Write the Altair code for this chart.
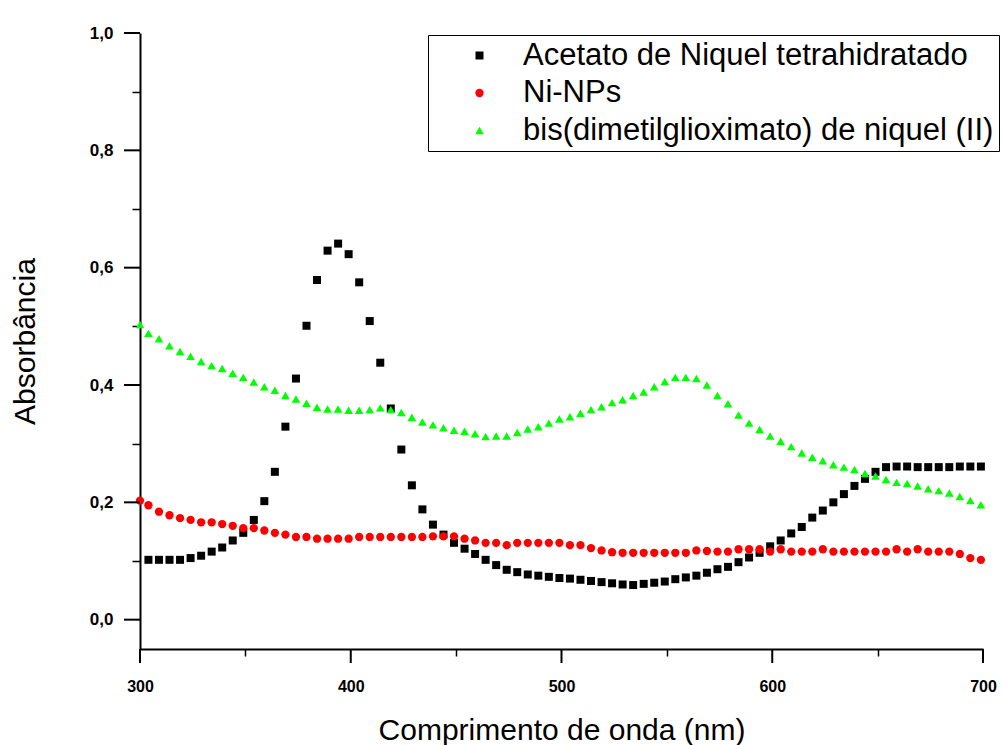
import altair as alt
import pandas as pd

series = ["Acetato de Niquel tetrahidratado", "Ni-NPs", "bis(dimetilglioximato) de niquel (II)"]
colors = ["#000000", "#ff0000", "#00ff00"]
shapes = ["square", "circle", "triangle-up"]
sizes = [64, 74, 165]

nm_black = list(range(304, 700, 5))
nm_red = [300] + list(range(304, 700, 5))
nm_green = [300] + list(range(304, 700, 5))

abs_black = [
    0.102, 0.102, 0.102, 0.102, 0.105, 0.109, 0.116, 0.123, 0.135, 0.148,
    0.170, 0.202, 0.252, 0.329, 0.411, 0.501, 0.579, 0.629, 0.641, 0.623,
    0.575, 0.509, 0.438, 0.360, 0.290, 0.229, 0.188, 0.162, 0.145, 0.131,
    0.121, 0.112, 0.102, 0.093, 0.085, 0.081, 0.077, 0.075, 0.073, 0.071,
    0.070, 0.068, 0.066, 0.064, 0.062, 0.060, 0.059, 0.061, 0.063, 0.065,
    0.069, 0.072, 0.075, 0.080, 0.086, 0.090, 0.098, 0.106, 0.114, 0.125,
    0.135, 0.147, 0.158, 0.174, 0.186, 0.200, 0.214, 0.228, 0.240, 0.252,
    0.260, 0.261, 0.261, 0.260, 0.260, 0.260, 0.260, 0.261, 0.261, 0.261,
]

abs_red = [
    0.203, 0.195, 0.184, 0.178, 0.173, 0.170, 0.166, 0.166, 0.163, 0.160,
    0.156, 0.156, 0.152, 0.148, 0.145, 0.141, 0.141, 0.138, 0.138, 0.138,
    0.138, 0.141, 0.141, 0.141, 0.141, 0.141, 0.141, 0.141, 0.142, 0.142,
    0.142, 0.138, 0.135, 0.131, 0.131, 0.127, 0.131, 0.131, 0.131, 0.131,
    0.131, 0.127, 0.127, 0.122, 0.118, 0.115, 0.114, 0.114, 0.114, 0.114,
    0.114, 0.114, 0.114, 0.118, 0.117, 0.116, 0.116, 0.120, 0.120, 0.120,
    0.116, 0.120, 0.116, 0.116, 0.116, 0.120, 0.116, 0.116, 0.116, 0.116,
    0.116, 0.116, 0.120, 0.116, 0.120, 0.116, 0.116, 0.116, 0.112, 0.105,
    0.102,
]

abs_green = [
    0.503, 0.488, 0.479, 0.467, 0.457, 0.449, 0.440, 0.433, 0.428, 0.420,
    0.413, 0.405, 0.397, 0.391, 0.382, 0.376, 0.369, 0.362, 0.359, 0.359,
    0.357, 0.357, 0.358, 0.361, 0.358, 0.353, 0.345, 0.337, 0.332, 0.327,
    0.323, 0.321, 0.317, 0.312, 0.313, 0.313, 0.319, 0.325, 0.329, 0.335,
    0.342, 0.346, 0.352, 0.358, 0.363, 0.370, 0.375, 0.382, 0.388, 0.397,
    0.406, 0.413, 0.413, 0.411, 0.400, 0.382, 0.368, 0.349, 0.335, 0.324,
    0.313, 0.304, 0.295, 0.284, 0.277, 0.271, 0.264, 0.260, 0.256, 0.249,
    0.245, 0.239, 0.234, 0.232, 0.228, 0.223, 0.220, 0.216, 0.210, 0.203,
    0.196,
]

x_major = [300, 400, 500, 600, 700]
x_minor = [350, 450, 550, 650]
y_major = [0.0, 0.2, 0.4, 0.6, 0.8, 1.0]
y_minor = [0.1, 0.3, 0.5, 0.7, 0.9]

rows = []
for name, xs, ys in [(series[0], nm_black, abs_black), (series[1], nm_red, abs_red), (series[2], nm_green, abs_green)]:
    for a, b in zip(xs, ys):
        rows.append({"nm": a, "abs": b, "serie": name})
df = pd.DataFrame(rows)
df["ordem"] = df["serie"].map({s: i for i, s in enumerate(series)})

FONT = "Liberation Sans"
W, H = 843, 616
xscale = alt.Scale(domain=[300, 700], nice=False, zero=False)
yscale = alt.Scale(domain=[-0.05, 1.0], nice=False, zero=False)

leg = alt.Legend(
    title=None,
    orient="none",
    legendX=288,
    legendY=2,
    strokeColor="black",
    fillColor="white",
    padding=5,
    labelFont=FONT,
    labelFontSize=31,
    labelColor="black",
    labelLimit=700,
    labelOffset=28,
    symbolOffset=31,
    symbolSize=60,
    symbolStrokeWidth=0,
    rowPadding=5.5,
)

base = alt.Chart(df)

points = base.mark_point(filled=True, opacity=1, strokeWidth=0).encode(
    x=alt.X(
        "nm:Q",
        scale=xscale,
        axis=alt.Axis(
            orient="bottom",
            values=x_major,
            title="Comprimento de onda (nm)",
            titleFont=FONT,
            titleFontSize=30,
            titleFontWeight="normal",
            titleColor="black",
            titleY=90,
            titleBaseline="alphabetic",
            labelFont=FONT,
            labelFontSize=16,
            labelFontWeight="bold",
            labelColor="black",
            labelFlush=False,
            labelOverlap=False,
            labelPadding=29,
            ticks=False,
            domainColor="black",
            domainWidth=2,
            grid=False,
        ),
    ),
    y=alt.Y(
        "abs:Q",
        scale=yscale,
        axis=alt.Axis(
            orient="left",
            values=y_major,
            title="Absorbância",
            titleFont=FONT,
            titleFontSize=30,
            titleFontWeight="normal",
            titleColor="black",
            titleAngle=270,
            titleX=-115,
            titleY=308,
            titleAlign="center",
            titleBaseline="middle",
            labelFont=FONT,
            labelFontSize=17,
            labelFontWeight="bold",
            labelColor="black",
            labelExpr="replace(format(datum.value, '.1f'), '.', ',')",
            labelOverlap=False,
            labelPadding=27,
            ticks=False,
            domainColor="black",
            domainWidth=2,
            grid=False,
        ),
    ),
    color=alt.Color("serie:N", scale=alt.Scale(domain=series, range=colors), legend=leg),
    shape=alt.Shape("serie:N", scale=alt.Scale(domain=series, range=shapes), legend=leg),
    size=alt.Size("serie:N", scale=alt.Scale(domain=series, range=sizes), legend=None),
    order=alt.Order("ordem:Q"),
)

minor = base.mark_point(opacity=0).encode(
    x=alt.X(
        "nm:Q",
        scale=xscale,
        axis=alt.Axis(
            orient="bottom", values=x_minor, title=None, labels=False, domain=False,
            ticks=True, tickSize=7, tickColor="black", tickWidth=1.5, grid=False,
        ),
    ),
    y=alt.Y(
        "abs:Q",
        scale=yscale,
        axis=alt.Axis(
            orient="left", values=y_minor, title=None, labels=False, domain=False,
            ticks=True, tickSize=8, tickColor="black", tickWidth=1.5, grid=False,
        ),
    ),
)

# major ticks drawn as short rules placed by the shared scales
ytick_major = alt.Chart(pd.DataFrame({"v": y_major})).mark_rule(
    color="black", strokeWidth=2, clip=False
).encode(
    y=alt.Y("v:Q", scale=yscale, axis=None),
    x=alt.value(-16),
    x2=alt.value(0),
)

xtick_major = alt.Chart(pd.DataFrame({"v": x_major})).mark_rule(
    color="black", strokeWidth=2, clip=False
).encode(
    x=alt.X("v:Q", scale=xscale, axis=None),
    y=alt.value(H),
    y2=alt.value(H + 14),
)

chart = alt.layer(points, minor, ytick_major, xtick_major).resolve_axis(
    x="independent", y="independent"
).properties(
    width=W,
    height=H,
    padding={"left": 140, "top": 33, "right": 20, "bottom": 96},
    autosize=alt.AutoSizeParams(type="none"),
    background="white",
).configure_view(stroke=None)

chart.save("out.html", embed_options={"renderer": "svg", "actions": False})
